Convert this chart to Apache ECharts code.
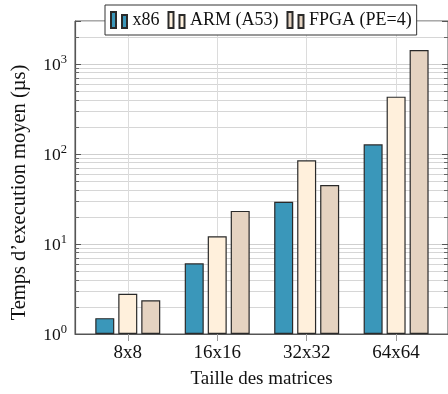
<!DOCTYPE html>
<html>
<head>
<meta charset="utf-8">
<script src="https://cdn.jsdelivr.net/npm/echarts@6/dist/echarts.min.js"></script>
<style>
  html, body { margin: 0; padding: 0; background: #fff; }
  #chart { width: 448px; height: 394px; }
</style>
</head>
<body>
<div id="chart"></div>
<script>
// données (temps en µs, axe log)
const categories = ['8x8', '16x16', '32x32', '64x64'];
const seriesNames = ['x86', 'ARM (A53)', 'FPGA (PE=4)'];
const x86Times = [1.5, 6.1, 29.5, 128];
const armTimes = [2.8, 12.2, 85, 433];
const fpgaTimes = [2.37, 23.3, 45.2, 1430];
const categoryTicks = [0, 1, 2, 3];
const yMin = 1;
const yMax = 3000;

const font = 'Liberation Serif';
const colors = ['#3a97ba', '#fff0dc', '#e5d3c1'];

// position des barres = index de la catégorie
function toPoints(values) {
    return values.map((v, i) => [i, v]);
}

const series = [x86Times, armTimes, fpgaTimes].map((values, i) => ({
    name: seriesNames[i],
    type: 'bar',
    data: toPoints(values),
    barWidth: 19,
    barGap: '21%',
    itemStyle: {
        color: colors[i],
        borderColor: '#2a2a2a',
        borderWidth: 1.2
    }
}));

// 10^n avec exposant en rich text
function powerLabel(value) {
    let exp = Math.log10(value);
    if (Math.abs(exp - Math.round(exp)) > 1e-6) {
        return '';
    }
    return '{b|10}{s|' + Math.round(exp) + '}';
}

const yLeft = {
    type: 'log',
    logBase: 10,
    min: yMin,
    max: yMax,
    position: 'left',
    name: 'Temps d’execution moyen (µs)',
    nameLocation: 'middle',
    nameGap: 45,
    nameTextStyle: { fontSize: 20.5, fontFamily: font, color: '#111', padding: [0, 30, 0, 0] },
    axisLine: { show: true, onZero: false, lineStyle: { color: '#555', width: 1.2 } },
    axisTick: { show: true, inside: true, length: 6, lineStyle: { color: '#555' } },
    minorTick: { show: true, splitNumber: 9, length: 4, lineStyle: { color: '#666' } },
    splitLine: { show: true, lineStyle: { color: '#cfcfcf' } },
    minorSplitLine: { show: true, lineStyle: { color: '#d6d6d6' } },
    axisLabel: {
        margin: 8,
        formatter: powerLabel,
        rich: {
            b: { fontSize: 17.5, fontFamily: font, color: '#111', verticalAlign: 'bottom' },
            s: { fontSize: 12.5, fontFamily: font, color: '#111', verticalAlign: 'bottom', padding: [0, 0, 8, 0] }
        }
    }
};

const yRight = {
    type: 'log',
    logBase: 10,
    min: yMin,
    max: yMax,
    position: 'right',
    axisLine: { show: false, onZero: false },
    axisTick: { show: true, inside: true, length: 6, lineStyle: { color: '#555' } },
    minorTick: { show: true, splitNumber: 9, length: 4, lineStyle: { color: '#666' } },
    splitLine: { show: false },
    minorSplitLine: { show: false },
    axisLabel: { show: false }
};

const option = {
    animation: false,
    textStyle: { fontFamily: font },
    legend: {
        left: 105,
        top: 5,
        padding: [6, 5, 6, 5],
        backgroundColor: '#fff',
        borderColor: '#333',
        borderWidth: 1,
        itemWidth: 17,
        itemHeight: 16,
        itemGap: 8,
        icon: 'path://M0,0h5v16h-5z M11,3h5v13h-5z',
        textStyle: { fontSize: 18, fontFamily: font, color: '#111' },
        data: seriesNames
    },
    grid: {
        left: 75,
        right: -1,
        top: 21,
        bottom: 60,
        show: true,
        borderColor: '#555',
        borderWidth: 1
    },
    xAxis: {
        type: 'value',
        min: -0.59,
        max: 3.58,
        name: 'Taille des matrices',
        nameLocation: 'middle',
        nameGap: 36,
        nameTextStyle: { fontSize: 19, fontFamily: font, color: '#111' },
        axisLine: { show: true, onZero: false, lineStyle: { color: '#555', width: 1.2 } },
        axisTick: { show: true, customValues: categoryTicks, length: 7, lineStyle: { color: '#999' } },
        axisLabel: {
            customValues: categoryTicks,
            formatter: v => categories[v],
            fontSize: 19,
            fontFamily: font,
            color: '#111',
            margin: 10
        },
        splitLine: { show: true, lineStyle: { color: '#dcdcdc' } }
    },
    yAxis: [yLeft, yRight],
    series: series
};

const chart = echarts.init(document.getElementById('chart'));
chart.setOption(option);
</script>
</body>
</html>
